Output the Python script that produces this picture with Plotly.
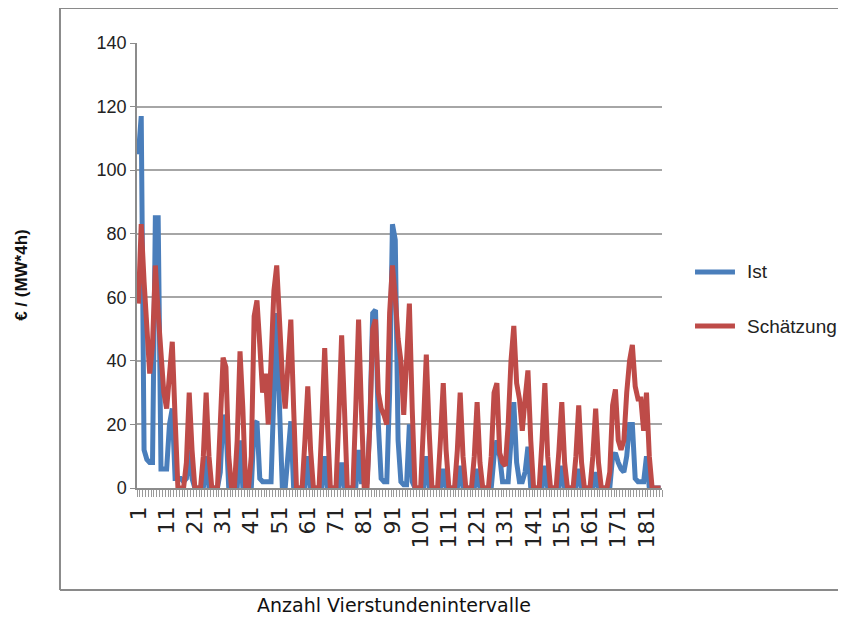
import plotly.graph_objects as go

categories = list(range(1, 187))

ist = [105, 117, 12, 9, 8, 8, 85, 85, 6, 6, 6, 20, 25, 3, 3, 3, 2, 3, 12, 3,
       0, 0, 0, 0, 10, 0, 0, 0, 0, 5, 23, 20, 0, 0, 0, 0, 15, 0, 0, 0,
       0, 20, 21, 3, 2, 2, 2, 2, 30, 55, 25, 0, 0, 10, 21, 0, 0, 0, 0, 0,
       10, 0, 0, 0, 0, 0, 10, 0, 0, 0, 0, 0, 8, 0, 0, 0, 0, 0, 12, 2,
       2, 2, 20, 55, 56, 20, 3, 2, 2, 30, 83, 78, 15, 2, 1, 1, 20, 2, 0, 0,
       0, 0, 10, 0, 0, 0, 0, 0, 6, 0, 0, 0, 0, 0, 7, 0, 0, 0, 0, 0,
       6, 0, 0, 0, 0, 0, 10, 15, 10, 2, 2, 2, 15, 27, 8, 2, 2, 5, 13, 0,
       0, 0, 0, 0, 7, 0, 0, 0, 0, 0, 7, 0, 0, 0, 0, 0, 6, 0, 0, 0,
       0, 0, 5, 0, 0, 0, 0, 0, 10, 11, 8, 6, 5, 10, 20, 20, 3, 2, 2, 2,
       10, 0, 0, 0, 0, 0]

schaetzung = [58, 83, 65, 50, 36, 45, 70, 55, 40, 30, 25, 34, 46, 22, 0, 0, 0, 8, 30, 12,
              0, 0, 0, 10, 30, 10, 0, 0, 0, 20, 41, 38, 10, 0, 0, 15, 43, 25, 0, 0,
              10, 54, 59, 45, 30, 36, 20, 40, 62, 70, 50, 35, 25, 40, 53, 25, 0, 0, 0, 15,
              32, 12, 0, 0, 0, 20, 44, 20, 0, 0, 0, 22, 48, 25, 0, 0, 0, 25, 53, 25,
              0, 0, 20, 50, 53, 30, 25, 23, 20, 55, 70, 60, 47, 40, 23, 40, 58, 25, 0, 0,
              0, 20, 42, 18, 0, 0, 0, 15, 33, 12, 0, 0, 0, 12, 30, 10, 0, 0, 0, 10,
              27, 8, 0, 0, 0, 10, 30, 33, 11, 8, 7, 20, 40, 51, 33, 28, 18, 28, 37, 15,
              0, 0, 0, 15, 33, 10, 0, 0, 0, 12, 27, 8, 0, 0, 0, 10, 26, 8, 0, 0,
              0, 10, 25, 8, 0, 0, 0, 5, 26, 31, 15, 12, 15, 30, 40, 45, 32, 28, 28, 18,
              30, 10, 0, 0, 0, 0]

series_names = ["Ist", "Schätzung"]
tick_values = list(range(1, 182, 10))
tick_labels = [str(v) for v in tick_values]
y_ticks = [0, 20, 40, 60, 80, 100, 120, 140]

BLUE = "#4A7EBB"
RED = "#BE4B48"
COLORS = [BLUE, RED]
GRID = "#A6A6A6"
SANS = "Liberation Sans, Arial, sans-serif"
BORDER = dict(color="#8A8A8A", width=2)

fig = go.Figure()
for name, vals, col in zip(series_names, [ist, schaetzung], COLORS):
    fig.add_trace(go.Scatter(x=categories, y=vals, mode="lines", name=name,
                             line=dict(color=col, width=5)))

# legend drawn as line samples + labels (keeps the figure inside the window)
legend_y = [0.4854, 0.3640]
shapes = [
    dict(type="line", xref="paper", yref="paper", x0=-0.1467, x1=1.5,
         y0=1.0787, y1=1.0787, line=BORDER, layer="below"),
    dict(type="line", xref="paper", yref="paper", x0=-0.1467, x1=-0.1467,
         y0=-0.2292, y1=1.0787, line=BORDER, layer="below"),
    dict(type="line", xref="paper", yref="paper", x0=-0.1467, x1=1.5,
         y0=-0.2292, y1=-0.2292, line=BORDER, layer="below"),
]
annotations = [
    dict(text="€ / (MW*4h)", xref="paper", yref="paper", x=-0.219, y=0.479,
         xanchor="center", yanchor="middle",
         textangle=-90, showarrow=False,
         font=dict(family=SANS, size=17, color="#111", weight="bold")),
    dict(text="Anzahl Vierstundenintervalle", xref="paper", yref="paper",
         x=0.49, y=-0.262, xanchor="center", yanchor="middle", showarrow=False,
         font=dict(family="DejaVu Sans", size=19, color="#111")),
]
for name, col, ly in zip(series_names, COLORS, legend_y):
    shapes.append(dict(type="line", xref="paper", yref="paper", x0=1.0629, x1=1.1390,
                       y0=ly, y1=ly, line=dict(color=col, width=5)))
    annotations.append(dict(text=name, xref="paper", yref="paper", x=1.158, y=ly,
                            xanchor="left", yanchor="middle", showarrow=False,
                            font=dict(family=SANS, size=19, color="#222")))

fig.update_layout(
    width=830, height=610,
    margin=dict(l=129, r=176, t=35, b=130),
    paper_bgcolor="white", plot_bgcolor="white",
    showlegend=False,
    xaxis=dict(range=[0.5, 186.5], tickmode="array", tickvals=tick_values,
               ticktext=tick_labels, tickangle=-90, ticks="",
               ticklabelstandoff=8,
               tickfont=dict(family="DejaVu Sans", size=22, color="#222"),
               showgrid=False, zeroline=False, showline=True,
               linecolor="#8C8C8C", linewidth=1.5,
               minor=dict(ticks="outside", dtick=1, tick0=0.5, ticklen=7,
                          tickcolor="#9A9A9A", tickwidth=1, showgrid=False)),
    yaxis=dict(range=[0, 140], tickmode="array", tickvals=y_ticks,
               ticks="outside", ticklen=5, tickcolor="#8C8C8C",
               tickfont=dict(family=SANS, size=18, color="#222"),
               showgrid=True, gridcolor=GRID, gridwidth=1.5,
               zeroline=False, showline=True, linecolor="#8C8C8C", linewidth=1.5),
    annotations=annotations,
    shapes=shapes,
)

fig.write_html("out.html")
